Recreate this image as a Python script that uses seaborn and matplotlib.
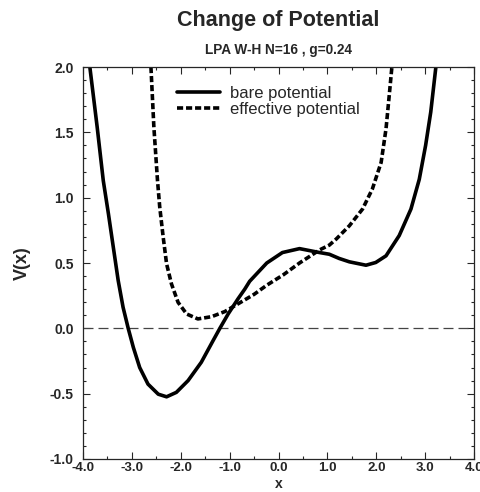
import matplotlib
matplotlib.use("Agg")
import matplotlib.pyplot as plt
import seaborn as sns
import pandas as pd
from matplotlib.ticker import MultipleLocator, FormatStrFormatter

# data
bare_x = [-3.86, -3.71, -3.585, -3.48, -3.38, -3.28, -3.18, -3.075, -2.97, -2.84, -2.67,
          -2.46, -2.29, -2.09, -1.85, -1.58, -1.34, -1.20, -1.03, -0.83, -0.69, -0.59,
          -0.24, 0.08, 0.43, 0.84, 1.04, 1.24, 1.45, 1.79, 1.99, 2.20, 2.47, 2.71,
          2.88, 3.01, 3.115, 3.22]
bare_v = [2.00, 1.54, 1.13, 0.877, 0.621, 0.366, 0.161, 0.00, -0.146, -0.30, -0.427,
          -0.504, -0.524, -0.49, -0.40, -0.26, -0.095, 0.00, 0.11, 0.225, 0.30, 0.36,
          0.50, 0.58, 0.61, 0.58, 0.567, 0.535, 0.509, 0.483, 0.504, 0.555, 0.71, 0.913,
          1.14, 1.40, 1.655, 2.00]
eff_x = [-2.61, -2.55, -2.476, -2.43, -2.36, -2.29, -2.19, -2.055, -1.88, -1.65, -1.37,
         -1.10, -0.83, -0.50, -0.24, 0.10, 0.43, 0.84, 1.04, 1.18, 1.45, 1.72, 1.92,
         2.10, 2.20, 2.265, 2.32]
eff_v = [2.00, 1.54, 1.133, 0.928, 0.70, 0.494, 0.34, 0.199, 0.11, 0.072, 0.089,
         0.128, 0.187, 0.26, 0.33, 0.41, 0.50, 0.60, 0.637, 0.683, 0.785, 0.913, 1.066,
         1.27, 1.527, 1.78, 2.00]

series_labels = ["bare potential", "effective potential"]
title = "Change of Potential"
subtitle = "LPA W-H N=16 , g=0.24"

sns.set_style("ticks")
plt.rcParams['font.family'] = ['Liberation Sans', 'DejaVu Sans']
plt.rcParams['font.weight'] = 'bold'

fig = plt.figure(figsize=(4.81, 4.92), dpi=100)
ax = fig.add_axes([83/481, 1 - 459/492, (474 - 83)/481, (459 - 67)/492])

df_b = pd.DataFrame({"x": bare_x, "v": bare_v})
df_e = pd.DataFrame({"x": eff_x, "v": eff_v})

dash_eff = (0, (1.7, 0.8))
ax.axhline(0.0, color="#444444", lw=0.9, ls=(0, (8, 4)), zorder=1)
sns.lineplot(data=df_b, x="x", y="v", ax=ax, color="black", lw=2.6,
             sort=False, label=series_labels[0], estimator=None)
sns.lineplot(data=df_e, x="x", y="v", ax=ax, color="black", lw=2.6,
             sort=False, label=series_labels[1], estimator=None)
ax.lines[-1].set_linestyle(dash_eff)
for ln in ax.lines:
    ln.set_solid_joinstyle('round')

ax.set_xlim(-4, 4)
ax.set_ylim(-1, 2)
ax.xaxis.set_major_locator(MultipleLocator(1.0))
ax.xaxis.set_minor_locator(MultipleLocator(0.5))
ax.yaxis.set_major_locator(MultipleLocator(0.5))
ax.yaxis.set_minor_locator(MultipleLocator(0.1))
ax.xaxis.set_major_formatter(FormatStrFormatter('%.1f'))
ax.yaxis.set_major_formatter(FormatStrFormatter('%.1f'))
ax.tick_params(which='both', direction='in', top=True, right=True, width=0.8,
               labelsize=9.5)
ax.tick_params(axis='x', pad=2.5)
ax.tick_params(axis='y', pad=6.5, labelsize=10)
ax.tick_params(which='major', length=5)
ax.tick_params(which='minor', length=2.5)
for s in ax.spines.values():
    s.set_linewidth(0.9)
    s.set_visible(True)

ax.set_xlabel("x", fontsize=10, fontweight='bold', va='bottom')
ax.xaxis.set_label_coords(0.5, (459 - 491.5) / 392)
ax.set_ylabel("V(x)", fontsize=13, fontweight='bold', labelpad=14)

leg = ax.legend(loc='center left', bbox_to_anchor=((177 - 83) / 391, (459 - 101.5) / 392),
                frameon=False, fontsize=12, handlelength=2.6, handletextpad=0.6,
                labelspacing=0.05, borderaxespad=0.0, borderpad=0.0)
for t in leg.get_texts():
    t.set_fontweight('normal')
leg.get_lines()[1].set_linestyle(dash_eff)

fig.text((83 + 474) / 2 / 481, 1 - 20.5/492, title, ha='center', va='center',
         fontsize=15.5, fontweight='bold')
fig.text((83 + 474) / 2 / 481, 1 - 50/492, subtitle, ha='center', va='center',
         fontsize=9.8, fontweight='bold')

fig.savefig("out.png", dpi=100)
